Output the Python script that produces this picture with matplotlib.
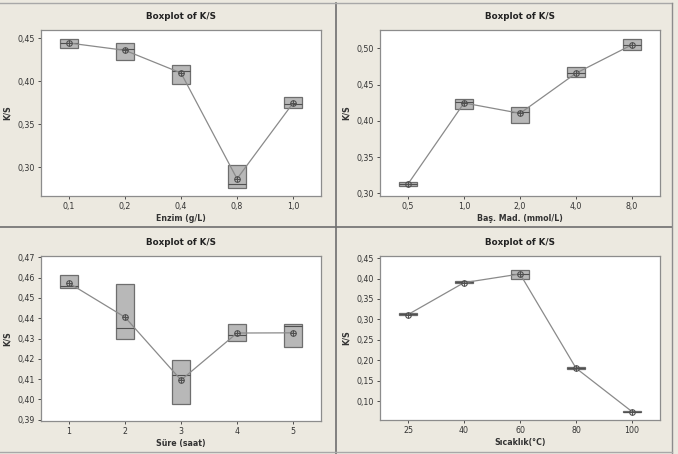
import matplotlib
matplotlib.use("Agg")
import matplotlib.pyplot as plt
from matplotlib.lines import Line2D
from matplotlib.ticker import FuncFormatter

# ---- data (Q1, median, Q3, mean per level) ----
enzim_labels = ['0,1', '0,2', '0,4', '0,8', '1,0']
enzim_q1 = [0.4384, 0.4245, 0.3970, 0.2762, 0.3683]
enzim_med = [0.4446, 0.4368, 0.4117, 0.2805, 0.3730]
enzim_q3 = [0.4485, 0.4446, 0.4190, 0.3022, 0.3811]
enzim_mean = [0.4442, 0.4357, 0.4094, 0.2867, 0.3745]

bas_labels = ['0,5', '1,0', '2,0', '4,0', '8,0']
bas_q1 = [0.3106, 0.4168, 0.3970, 0.4603, 0.4982]
bas_med = [0.3129, 0.4265, 0.4127, 0.4654, 0.5046]
bas_q3 = [0.3152, 0.4298, 0.4192, 0.4746, 0.5134]
bas_mean = [0.3129, 0.4247, 0.4104, 0.4658, 0.5051]

sure_labels = ['1', '2', '3', '4', '5']
sure_q1 = [0.4549, 0.4300, 0.3978, 0.4288, 0.4257]
sure_med = [0.4558, 0.4351, 0.4122, 0.4315, 0.4361]
sure_q3 = [0.4615, 0.4567, 0.4195, 0.4374, 0.4371]
sure_mean = [0.4573, 0.4405, 0.4095, 0.4327, 0.4328]

sic_labels = ['25', '40', '60', '80', '100']
sic_q1 = [0.3099, 0.3887, 0.3982, 0.1795, 0.0745]
sic_med = [0.3127, 0.3925, 0.4119, 0.1815, 0.0750]
sic_q3 = [0.3155, 0.3950, 0.4216, 0.1835, 0.0755]
sic_mean = [0.3120, 0.3899, 0.4111, 0.1811, 0.0750]

BG = '#ECE9E0'
fig = plt.figure(figsize=(6.78, 4.54), dpi=100, facecolor=BG)

comma = FuncFormatter(lambda v, p: ('%.2f' % v).replace('.', ','))


def panel(rect, labels, q1, med, q3, mean, xlabel, ylim, yticks):
    ax = fig.add_axes(rect)
    stats = []
    for lab, a, m, b in zip(labels, q1, med, q3):
        stats.append(dict(label=lab, q1=a, med=m, q3=b, whislo=a, whishi=b, fliers=[]))
    pos = list(range(1, len(labels) + 1))
    ax.bxp(stats, positions=pos, widths=0.33, patch_artist=True, showcaps=False,
           boxprops=dict(facecolor='#B8B8B8', edgecolor='#6E6E6E', linewidth=0.9),
           medianprops=dict(color='#505050', linewidth=0.8),
           whiskerprops=dict(color='#6E6E6E', linewidth=0.6))
    ax.plot(pos, mean, color='#8A8A8A', linewidth=0.9, zorder=3)
    ax.plot(pos, mean, linestyle='none', marker='o', markersize=4, markerfacecolor='none',
            markeredgecolor='#505050', markeredgewidth=0.8, zorder=4)
    ax.plot(pos, mean, linestyle='none', marker='+', markersize=4,
            markeredgecolor='#505050', markeredgewidth=0.7, zorder=4)
    ax.set_xlim(0.5, 5.5)
    ax.set_ylim(*ylim)
    ax.set_yticks(yticks)
    ax.yaxis.set_major_formatter(comma)
    ax.set_xticks(pos)
    ax.set_xticklabels(labels)
    ax.tick_params(labelsize=5.7, colors='#333333', length=2.5, width=0.6, pad=2)
    for s in ax.spines.values():
        s.set_color('#8C8C8C')
        s.set_linewidth(0.9)
    ax.set_title('Boxplot of K/S', fontsize=6.3, fontweight='bold', color='#222222', pad=8)
    ax.set_xlabel(xlabel, fontsize=5.7, fontweight='bold', color='#333333', labelpad=2)
    ax.set_ylabel('K/S', fontsize=5.7, fontweight='bold', color='#333333', labelpad=4)
    return ax


ticks1 = [0.30, 0.35, 0.40, 0.45]
ticks2 = [0.30, 0.35, 0.40, 0.45, 0.50]
ticks3 = [0.39, 0.40, 0.41, 0.42, 0.43, 0.44, 0.45, 0.46, 0.47]
ticks4 = [0.10, 0.15, 0.20, 0.25, 0.30, 0.35, 0.40, 0.45]

panel([0.0605, 0.5683, 0.413, 0.3656], enzim_labels, enzim_q1, enzim_med, enzim_q3, enzim_mean,
      'Enzim (g/L)', (0.2667, 0.4593), ticks1)
panel([0.5605, 0.5683, 0.413, 0.3656], bas_labels, bas_q1, bas_med, bas_q3, bas_mean,
      'Baş. Mad. (mmol/L)', (0.2963, 0.5254), ticks2)
panel([0.0605, 0.0727, 0.413, 0.3634], sure_labels, sure_q1, sure_med, sure_q3, sure_mean,
      'Süre (saat)', (0.3893, 0.4707), ticks3)
panel([0.5605, 0.0749, 0.413, 0.3612], sic_labels, sic_q1, sic_med, sic_q3, sic_mean,
      'Sıcaklık(°C)', (0.0546, 0.4549), ticks4)

# panel borders
fig.add_artist(Line2D([336 / 678, 336 / 678], [0, 1 - 3 / 454], color='#6E6E6E', linewidth=1.2))
fig.add_artist(Line2D([0, 672 / 678], [0.5, 0.5], color='#6E6E6E', linewidth=1.2))
fig.add_artist(Line2D([0, 672 / 678], [1 - 3 / 454, 1 - 3 / 454], color='#A8A8A8', linewidth=1.0))
fig.add_artist(Line2D([672 / 678, 672 / 678], [1 / 454, 1 - 3 / 454], color='#8C8C8C', linewidth=1.0))
fig.add_artist(Line2D([0, 672 / 678], [2 / 454, 2 / 454], color='#A8A8A8', linewidth=1.0))

fig.savefig('out.png', dpi=100, facecolor=BG)
